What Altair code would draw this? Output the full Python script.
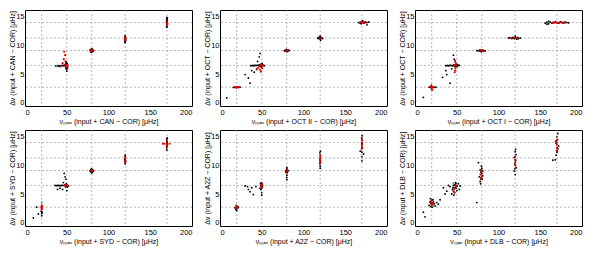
import altair as alt
import pandas as pd

# Axes / reference grid (input values of the simulated stars)
X_TICKS = [0, 50, 100, 150, 200]
Y_TICKS = [0, 5, 10, 15]
GRID_X = [20, 50, 80, 120, 170]
GRID_Y = [2.7, 6.5, 9.1, 11.3, 14.0]

# ---------------- CAN ----------------
CAN_BLK = [(37, 6.4), (38.5, 6.45), (40, 6.4), (41.5, 6.45), (43, 6.4), (44.5, 6.5), (46, 6.45), (47, 6.5),
           (48.5, 6.3), (49, 6.0), (49.5, 6.7), (50, 6.1), (50.5, 6.8), (51, 6.4), (49, 6.9), (50, 5.8),
           (51, 6.1), (48, 6.6), (50, 5.5), (49.5, 7.1),
           (78.5, 9.0), (79, 9.3), (79.5, 8.8), (80, 9.4), (80.5, 8.9), (81, 9.3), (81.5, 9.0), (79, 8.9),
           (80, 9.0), (82, 9.1), (78, 9.2),
           (119.5, 10.6), (120, 10.5), (120.5, 10.9), (119.6, 11.2), (120.4, 11.4), (120, 11.7), (119.7, 11.5),
           (120.5, 11.1), (120.2, 10.8),
           (169.5, 13.3), (170, 13.2), (170.5, 13.6), (169.6, 13.9), (170.4, 14.1), (170, 14.4), (169.7, 14.6),
           (170.4, 14.7), (170, 14.9), (170.6, 13.8), (169.5, 14.2)]
CAN_RED = [(49, 6.4), (50, 6.5), (50.5, 6.3), (49.5, 6.6), (48.5, 6.5), (51, 6.6), (50, 6.2), (49.5, 6.4),
           (47, 8.9), (48, 8.3), (46.5, 7.6), (48.5, 7.2), (45, 6.9), (42, 6.3),
           (80, 9.1), (79.5, 9.0), (80.5, 9.2), (79, 9.1), (81, 9.1),
           (120, 11.0), (120.2, 11.2), (119.8, 10.9), (120, 11.4),
           (170, 14.0), (170.2, 13.8), (169.8, 14.1), (170, 13.6)]
CAN_GRN = [(38, 6.45)]

# ---------------- OCT II ----------------
OCT2_BLK = [(8, 0.8), (30, 4.9), (34, 4.3), (36, 3.4), (38, 5.6), (41, 5.3), (44, 5.8), (47, 8.0), (48, 8.6), (45, 7.2),
            (16, 2.65), (17.5, 2.7), (19, 2.65), (21, 2.7), (22.5, 2.65), (24, 2.7),
            (37, 6.45), (38.5, 6.5), (40, 6.45), (41.5, 6.5), (43, 6.5), (44.5, 6.5), (46, 6.5),
            (47, 6.6), (48, 6.4), (49, 6.7), (50, 6.4), (51, 6.6), (52, 6.5), (53, 6.45), (49.5, 6.2), (50.5, 6.8),
            (77, 9.05), (78, 9.15), (79, 9.0), (80, 9.2), (81, 9.0), (82, 9.15), (83, 9.1), (80, 8.9), (79.5, 9.3),
            (117, 11.3), (118, 11.2), (119, 11.5), (120, 11.1), (121, 11.4), (122, 11.3), (123, 11.2), (120, 11.6),
            (120.5, 10.9), (119.5, 11.3),
            (166, 14.0), (168, 13.9), (170, 14.2), (172, 13.9), (174, 14.1), (176, 14.0), (178, 14.1), (176, 13.6),
            (171, 14.3), (169, 13.8)]
OCT2_RED = [(18, 2.7), (19.5, 2.68), (20.5, 2.72), (22, 2.7), (20, 2.6),
            (48, 6.5), (49, 6.4), (50, 6.6), (51, 6.5), (49.5, 6.5), (48, 5.7), (49, 5.4), (50.5, 6.0), (44, 5.9),
            (46, 6.1), (79, 9.1), (80, 9.1), (81, 9.1), (120, 11.3),
            (168, 14.1), (170, 14.0), (172, 14.1), (173, 13.9), (171, 14.0), (169, 14.1)]
OCT2_GRN = []

# ---------------- OCT I ----------------
OCT1_BLK = [(10, 0.9), (33, 4.4), (37, 5.6), (38, 4.9), (42, 3.4), (46, 8.3), (47, 7.6), (44, 5.9),
            (17, 2.7), (18.5, 2.65), (20, 2.7), (21.5, 2.7), (23, 2.65), (25, 2.7),
            (37, 6.45), (38.5, 6.5), (40, 6.45), (41.5, 6.5), (43, 6.5), (44.5, 6.45),
            (46, 6.5), (47, 6.6), (48, 6.4), (49, 6.55), (50, 6.45), (51, 6.6), (52, 6.5), (53, 6.5), (47.5, 6.3),
            (49.5, 6.7), (50.5, 6.3),
            (74, 9.1), (75.5, 9.05), (77, 9.15), (78, 9.0), (79, 9.2), (80, 9.05), (81, 9.15), (82, 9.0), (83, 9.1),
            (84, 9.05), (79.5, 8.9),
            (112, 11.3), (114, 11.35), (116, 11.2), (117, 11.4), (118, 11.3), (119, 11.2), (120, 11.4), (121, 11.3),
            (122, 11.1), (123, 11.4), (124, 11.2), (126, 11.3), (120, 11.6),
            (156, 13.9), (158, 14.05), (160, 13.8), (162, 14.1), (164, 13.9), (166, 14.0), (168, 14.1), (170, 14.0),
            (172, 13.9), (174, 14.1), (176, 14.0), (178, 13.9), (180, 14.1), (182, 14.0), (184, 13.95), (160, 14.2),
            (158, 13.7)]
OCT1_RED = [(19, 2.7), (20, 2.7), (21, 2.7), (20, 2.4), (20.5, 2.2), (19.5, 3.0),
            (48, 6.5), (48.5, 6.0), (48, 5.6), (47.5, 5.3), (48.5, 7.0), (48, 7.3), (49, 6.5), (47, 6.6),
            (78, 9.1), (80, 9.1), (82, 9.1), (115, 11.3), (119, 11.3), (122, 11.3),
            (165, 14.0), (167, 14.0), (170, 14.0), (173, 14.0), (176, 14.0), (178, 14.0), (180, 14.0), (171, 13.9),
            (175, 14.1)]
OCT1_GRN = []

# ---------------- SYD ----------------
SYD_BLK = [(10, 0.8), (14, 2.7), (16, 1.5), (20, 1.2), (20, 1.6), (19.5, 2.0), (20.5, 1.8),
           (36, 6.5), (37.5, 6.45), (39, 6.5), (40.5, 6.5), (42, 6.45), (43.5, 6.5), (45, 6.5),
           (47, 6.5), (48, 6.6), (49, 6.4), (50, 6.6), (51, 6.5), (52, 6.4), (49.5, 6.8), (50.5, 6.2), (48.5, 6.25),
           (47, 8.6), (48, 8.0), (49, 7.6), (45, 5.8), (50, 5.6), (39, 5.8), (42, 6.0), (46, 7.0),
           (78, 9.1), (78.5, 8.9), (79, 9.3), (79.5, 9.0), (80, 9.4), (80.5, 8.8), (81, 9.2), (81.5, 9.0), (82, 9.1),
           (80, 8.7), (79, 9.1),
           (120, 10.3), (119.7, 10.6), (120.3, 10.9), (119.8, 11.2), (120.2, 11.5), (120, 11.8), (119.6, 11.0),
           (120.4, 10.7),
           (170, 12.7), (169.7, 13.1), (170.3, 13.4), (169.8, 13.7), (170.2, 14.0), (170, 14.3), (169.7, 14.6),
           (170.3, 14.8), (170, 13.9)]
SYD_RED = [(20, 2.3), (19.6, 2.6), (20.4, 2.8), (20, 3.0), (20.2, 2.5), (19.8, 2.75),
           (48, 6.5), (49, 6.5), (50, 6.5), (51, 6.45), (49.5, 6.6),
           (80, 9.1), (79.5, 9.2), (80.5, 9.0),
           (120, 10.8), (120, 11.2), (119.8, 11.5), (120.2, 10.5),
           (170, 13.3), (170, 13.8), (170.2, 14.2), (169.8, 13.6), (165, 13.8), (167, 13.8), (173, 13.8)]
SYD_GRN = [(20, 3.5)]

# ---------------- A2Z ----------------
A2Z_BLK = [(30, 6.4), (33, 6.3), (36, 5.4), (38, 6.1), (40, 4.9), (34, 5.8), (43, 6.3),
           (18, 2.6), (19, 2.3), (20, 2.1), (21, 2.5), (22, 2.7), (19.5, 3.0), (20.5, 2.8), (20, 2.5),
           (48, 6.0), (48.5, 6.8), (49, 5.8), (49.5, 7.0), (50, 6.2), (50.5, 6.6), (51, 6.4), (50, 5.2), (50, 4.8),
           (49, 6.5),
           (80, 7.5), (80, 7.9), (80, 8.3), (79, 8.8), (81, 9.0), (80, 9.4), (79.5, 9.2), (80.5, 8.7), (80, 9.6),
           (78.5, 9.0), (81.5, 9.1),
           (120, 9.5), (120, 9.9), (119.7, 10.3), (120.3, 10.6), (119.8, 11.0), (120.2, 11.4), (120, 11.8),
           (119.7, 12.2), (120.3, 12.5), (120, 10.8),
           (170, 10.8), (170, 11.5), (172, 12.0), (168, 12.5), (170, 12.3), (169.7, 12.9), (170.3, 13.2),
           (169.8, 13.6), (170.2, 14.0), (170, 14.4), (169.7, 14.8), (170.3, 15.2), (170, 13.8)]
A2Z_RED = [(20, 2.7), (19.5, 2.6), (20.5, 2.55), (20, 2.9),
           (49, 6.4), (50, 6.5), (49.5, 6.2), (50.5, 6.8), (50, 6.0),
           (80, 9.1), (79.5, 8.9), (80.5, 9.2),
           (120, 10.5), (120, 10.9), (119.8, 11.3), (120.2, 11.7),
           (170, 13.2), (170, 13.6), (169.8, 14.0), (170.2, 14.4), (170, 13.0)]
A2Z_GRN = []

# ---------------- DLB ----------------
DLB_BLK = [(10, 1.8), (12, 1.0), (26, 3.5), (28, 3.2), (30, 4.0), (24, 2.9), (36, 5.0), (38, 5.5), (40, 6.5),
           (34, 6.1), (42, 6.3), (52, 6.8), (54, 6.4), (53, 5.8), (74, 3.5), (76, 10.5), (165, 10.9),
           (17, 3.0), (18, 3.6), (19, 2.8), (20, 3.9), (21, 3.2), (22, 3.6), (23, 3.3), (18.5, 4.2), (20.5, 2.7),
           (19.5, 3.4), (21.5, 4.0),
           (44, 5.0), (45, 5.8), (46, 6.5), (47, 5.3), (48, 6.2), (49, 6.8), (50, 5.6), (46.5, 4.8), (48.5, 7.0),
           (45.5, 6.1), (47.5, 6.6), (49.5, 6.0), (50.5, 6.4),
           (77, 8.0), (78, 7.2), (79, 8.8), (80, 9.5), (81, 8.2), (78.5, 6.8), (79.5, 9.9), (80.5, 7.6), (78, 9.2),
           (79, 7.8), (80, 8.6), (81, 9.0),
           (119, 9.0), (120, 8.4), (121, 9.6), (119.5, 10.2), (120.5, 10.8), (119, 11.4), (121, 11.9), (120, 12.4),
           (120.5, 12.8), (119.5, 9.4), (120, 11.0),
           (168, 11.0), (169, 11.8), (170, 12.3), (171, 12.9), (172, 13.4), (169, 13.9), (170.5, 14.5), (170, 15.0),
           (171, 15.6), (169.5, 12.6), (170.5, 13.1), (168.5, 14.2)]
DLB_RED = [(19, 3.3), (20, 3.5), (21, 3.4), (20, 3.1), (19.5, 3.8),
           (47, 5.9), (48, 6.0), (46, 5.5), (48.5, 6.5), (47.5, 5.2),
           (79, 8.4), (80, 8.0), (79.5, 8.8), (80, 9.2), (79, 7.6),
           (120, 10.5), (120, 11.0), (119.8, 11.5), (120.2, 10.0),
           (170, 13.0), (170, 13.6), (170.3, 12.5), (169.8, 14.0), (170, 14.4)]
DLB_GRN = [(46, 6.9), (22, 3.0), (78, 8.4)]

PANELS = [
    ("CAN", "CAN", "  ", CAN_BLK, CAN_RED, CAN_GRN),
    ("OCT", "OCT II", " ", OCT2_BLK, OCT2_RED, OCT2_GRN),
    ("OCT", "OCT I", "  ", OCT1_BLK, OCT1_RED, OCT1_GRN),
    ("SYD", "SYD", "  ", SYD_BLK, SYD_RED, SYD_GRN),
    ("A2Z", "A2Z", "  ", A2Z_BLK, A2Z_RED, A2Z_GRN),
    ("DLB", "DLB", "  ", DLB_BLK, DLB_RED, DLB_GRN),
]

W, H = 167, 96
FONT = "Liberation Sans"


def panel(ylab, xlab, gap, blk, red, grn):
    xtitle = "\u03bd\u2098\u2090\u2093 (input + " + xlab + " \u2212 COR)" + gap + "[\u03bcHz]"
    ytitle = "\u0394\u03bd (input + " + ylab + " \u2212 COR) [\u03bcHz]"

    def xenc(field):
        return alt.X(field, type="quantitative",
                     scale=alt.Scale(domain=[0, 200], nice=False, zero=False),
                     axis=alt.Axis(values=X_TICKS, title=xtitle, format="d"))

    def yenc(field):
        return alt.Y(field, type="quantitative",
                     scale=alt.Scale(domain=[-0.6, 16.2], nice=False, zero=False),
                     axis=alt.Axis(values=Y_TICKS, title=ytitle, format="d",
                                   labelPadding=1, titlePadding=0))

    gx = alt.Chart(pd.DataFrame({"gx": GRID_X})).mark_rule(
        color="#9a9a9a", strokeDash=[2, 2], strokeWidth=0.7
    ).encode(x=xenc("gx"))
    gy = alt.Chart(pd.DataFrame({"gy": GRID_Y})).mark_rule(
        color="#9a9a9a", strokeDash=[2, 2], strokeWidth=0.7
    ).encode(y=yenc("gy"))

    def pts(lst, color, size):
        df = pd.DataFrame(lst, columns=["x", "y"])
        return alt.Chart(df).mark_circle(color=color, size=size, opacity=1).encode(
            x=xenc("x"), y=yenc("y"))

    layers = [gx, gy, pts(blk, "black", 3.5)]
    if grn:
        layers.append(pts(grn, "#2aa89a", 4))
    layers.append(pts(red, "#e00000", 4.5))
    return alt.layer(*layers).properties(width=W, height=H)


charts = [panel(*p) for p in PANELS]
chart = alt.concat(*charts, columns=3, spacing={"row": 24, "column": 28}, bounds="flush").properties(
    padding={"left": 0, "top": 1, "right": 2, "bottom": 1}
).configure_view(stroke="black", strokeWidth=1).configure_axis(
    domain=False, ticks=False, grid=False,
    labelFont=FONT, labelFontSize=7.5, labelColor="black", labelPadding=2,
    titleFont=FONT, titleFontSize=7, titleFontWeight="normal", titleColor="black", titlePadding=2,
)

chart.save("out.html", embed_options={"renderer": "svg", "actions": False})
